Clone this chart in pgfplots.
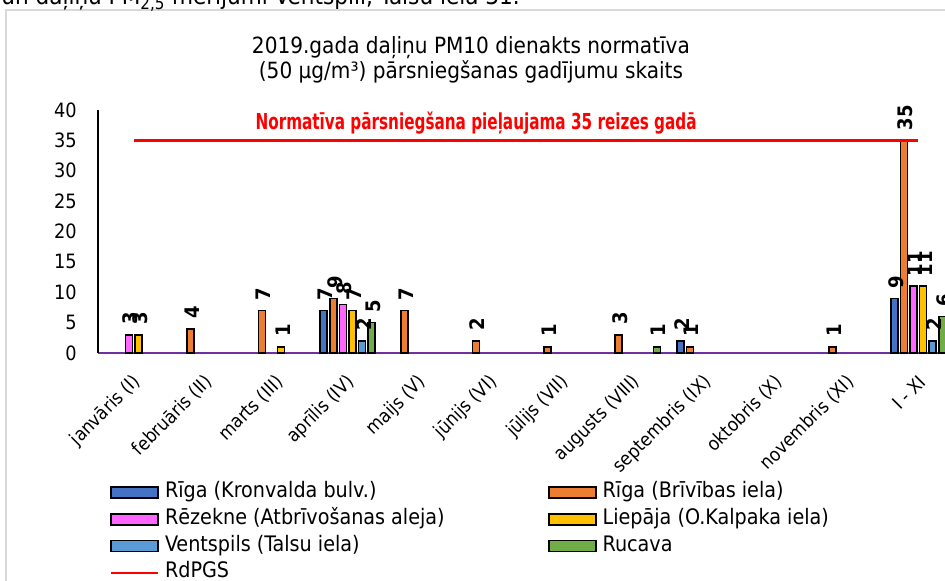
\documentclass[border=0pt]{standalone}
\usepackage{graphicx}
\usepackage{pgfplots}
\pgfplotsset{compat=1.18}
\usepackage{fontspec}
\setmainfont{DejaVu Sans Condensed}
\definecolor{cKron}{HTML}{4472C4}
\definecolor{cBriv}{HTML}{ED7D31}
\definecolor{cRez}{HTML}{FF66FF}
\definecolor{cLiep}{HTML}{FFC000}
\definecolor{cVent}{HTML}{5B9BD5}
\definecolor{cRuc}{HTML}{70AD47}
\definecolor{cAxis}{HTML}{7030A0}
\definecolor{cFrame}{HTML}{D9D9D9}
\pgfplotsset{
  mybar/.style 2 args={ybar, bar width=5.25pt, bar shift=#2, draw=black, line width=1.2pt, fill=#1,
    nodes near coords,
    every node near coord/.style={xshift=#2+1.2pt, rotate=90, anchor=west, text=black, inner xsep=7pt, inner ysep=0pt,
      font=\bfseries\fontsize{15}{17}\selectfont},
    legend image code/.code={\draw[fill=#1, draw=black, line width=1.2pt] (0pt,-4.125pt) rectangle (35.25pt,4.125pt);}},
}
\begin{document}
\begin{tikzpicture}
\draw[draw=cFrame, line width=1pt] (4.5pt,-600pt) -- (4.5pt,-7.5pt) -- (900pt,-7.5pt);
\node[anchor=base east, font=\fontsize{18}{21}\selectfont, inner sep=0pt] at (390pt,-3.4pt)
  {PM\textsubscript{10}) un daļiņu PM\textsubscript{2,5} mērījumi Ventspilī, Talsu ielā 31.};
\node[anchor=base, font=\fontsize{16.75}{20}\selectfont, inner sep=0pt] at (353.25pt,-40.5pt)
  {2019.gada daļiņu PM10 dienakts normatīva};
\node[anchor=base, font=\fontsize{16.75}{20}\selectfont, inner sep=0pt] at (353.25pt,-59pt)
  {(50 µg/m³) pārsniegšanas gadījumu skaits};
\begin{axis}[
  at={(73.5pt,-264.75pt)}, anchor=south west,
  scale only axis, width=642pt, height=182.25pt,
  xmin=-0.5, xmax=11.5, ymin=0, ymax=40,
  ytick={0,5,...,40},
  xtick={0,...,11},
  xticklabels={janvāris (I), februāris (II), marts (III), aprīlis (IV), maijs (V), jūnijs (VI), jūlijs (VII), augusts (VIII), septembris (IX), oktobris (X), novembris (XI), I - XI},
  axis x line*=bottom, axis y line*=left, separate axis lines,
  x axis line style={-, draw=cAxis, line width=1.5pt},
  y axis line style={-, draw=black, line width=1.1pt},
  major tick length=0pt,
  /pgf/number format/assume math mode=true,
  yticklabel style={anchor=east, inner sep=0pt, xshift=-15.75pt, font=\fontsize{14.8}{17}\selectfont},
  xticklabel style={inner sep=0pt, xshift=3pt, yshift=-19.5pt, rotate=45, anchor=east, font=\fontsize{14}{16}\selectfont},
  clip=false,
  legend columns=2,
  legend cell align=left,
  legend style={draw=none, fill=none, inner sep=0pt, outer sep=0pt,
    at={(0.01402,-0.532)}, anchor=north west,
    nodes={inner sep=0pt, text height=11.6pt, text depth=3.8pt, font=\fontsize{16}{19}\selectfont},
    /tikz/every odd column/.append style={column sep=4.5pt},
    /tikz/every even column/.append style={column sep=7.25pt},
    row sep=4.6pt},
]
\addplot[mybar={cKron}{-18pt}] coordinates {(3,7) (8,2) (11,9)};
\addlegendentry{\makebox[280pt][l]{Rīga (Kronvalda bulv.)}}
\addplot[mybar={cBriv}{-10.8pt}] coordinates {(1,4) (2,7) (3,9) (4,7) (5,2) (6,1) (7,3) (8,1) (10,1) (11,35)};
\addlegendentry{Rīga (Brīvības iela)}
\addplot[mybar={cRez}{-3.6pt}] coordinates {(0,3) (3,8) (11,11)};
\addlegendentry{\makebox[280pt][l]{Rēzekne (Atbrīvošanas aleja)}}
\addplot[mybar={cLiep}{3.6pt}] coordinates {(0,3) (2,1) (3,7) (11,11)};
\addlegendentry{Liepāja (O.Kalpaka iela)}
\addplot[mybar={cVent}{10.8pt}] coordinates {(3,2) (11,2)};
\addlegendentry{\makebox[280pt][l]{Ventspils (Talsu iela)}}
\addplot[mybar={cRuc}{18pt}] coordinates {(3,5) (7,1) (11,6)};
\addlegendentry{Rucava}
\addplot[draw=red, line width=2.25pt, sharp plot, mark=none,
  legend image code/.code={\draw[draw=red, line width=1.5pt] (0pt,0pt) -- (35.25pt,0pt);}]
  coordinates {(0,35) (1,35) (2,35) (3,35) (4,35) (5,35) (6,35) (7,35) (8,35) (9,35) (10,35) (11,35)};
\addlegendentry{RdPGS}
\node[anchor=base, text=red, inner sep=0pt, font=\bfseries\fontsize{16.5}{20}\selectfont] at (axis cs:4.80,36.87)
  {\resizebox{330.75pt}{\height}{Normatīva pārsniegšana pieļaujama 35 reizes gadā}};
\end{axis}
\pgfresetboundingbox
\path[use as bounding box] (0pt,0pt) rectangle (708.75pt,-435.75pt);
\end{tikzpicture}
\end{document}
